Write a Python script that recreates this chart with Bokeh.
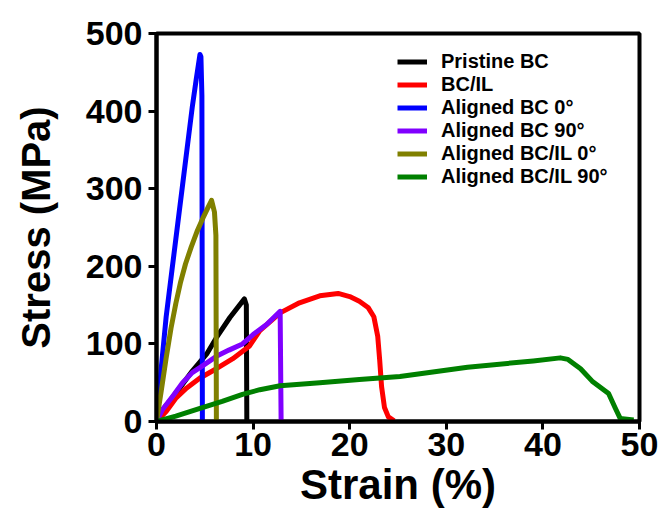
from bokeh.plotting import figure
from bokeh.models import Range1d, Legend, LegendItem
from bokeh.embed import file_html
from bokeh.resources import INLINE

# ---- data ----
pristine_strain = [0, 0.3, 1.35, 2.4, 3.7, 5.2, 6.2, 7.6, 9.1, 9.3, 9.35]
pristine_stress = [0, 10, 26, 43, 65, 87, 108, 134, 158, 150, 0]

bcil_strain = [0, 1.0, 2.0, 3.1, 4.5, 6.2, 7.9, 9.6, 10.7, 12.8, 14.8, 16.9, 18.8,
               20.0, 21.0, 21.9, 22.5, 22.9, 23.1, 23.3, 23.6, 24.0, 24.6]
bcil_stress = [0, 13, 30, 43, 56, 68, 81, 97, 117, 140, 153, 162, 165,
               161, 155, 147, 135, 110, 80, 45, 18, 6, 1]

abc0_strain = [0, 0.5, 1.0, 1.6, 2.2, 2.7, 3.2, 3.7, 4.1, 4.5, 4.6, 4.7, 4.75]
abc0_stress = [0, 70, 135, 195, 255, 305, 355, 405, 440, 473, 470, 420, 0]

abc90_strain = [0, 0.6, 1.7, 2.7, 3.7, 4.8, 6.2, 7.5, 8.9, 10.0, 11.4, 12.8, 12.9]
abc90_stress = [0, 15, 33, 50, 63, 72, 84, 92, 100, 112, 125, 142, 0]

abcil0_strain = [0, 0.5, 1.0, 1.5, 2.0, 2.5, 3.0, 3.6, 4.2, 4.8, 5.3, 5.7, 6.0, 6.15, 6.2]
abcil0_stress = [0, 40, 82, 120, 152, 180, 203, 225, 245, 262, 275, 285, 270, 240, 0]

abcil90_strain = [0, 2.0, 4.5, 6.8, 8.9, 10.7, 12.8, 16.9, 21.0, 25.2, 32.2, 39.0,
                  41.8, 42.6, 43.9, 45.1, 46.8, 47.5, 48.0, 49.4]
abcil90_stress = [0, 7, 17, 26, 35, 41, 46, 50, 54, 58, 70, 78,
                  82, 80, 68, 52, 36, 17, 4, 2]

labels = ["Pristine BC", "BC/IL", "Aligned BC 0°", "Aligned BC 90°",
          "Aligned BC/IL 0°", "Aligned BC/IL 90°"]
colors = ["#000000", "#ff0000", "#0000ff", "#8000ff", "#808000", "#008000"]
series = [(pristine_strain, pristine_stress), (bcil_strain, bcil_stress),
          (abc0_strain, abc0_stress), (abc90_strain, abc90_stress),
          (abcil0_strain, abcil0_stress), (abcil90_strain, abcil90_stress)]

x_ticks = [0, 10, 20, 30, 40, 50]
y_ticks = [0, 100, 200, 300, 400, 500]

FONT = "Liberation Sans"

p = figure(width=664, height=525, output_backend="svg", toolbar_location=None,
           x_range=Range1d(0, 50), y_range=Range1d(0, 500),
           min_border_left=156, min_border_right=25, min_border_top=33,
           min_border_bottom=104)
p.grid.visible = False
p.outline_line_color = "black"
p.outline_line_width = 4
p.background_fill_color = "white"
p.border_fill_color = "white"

items = []
for (xs, ys), c, lab in zip(series, colors, labels):
    r = p.line(xs, ys, line_color=c, line_width=5, line_join="round")
    items.append(LegendItem(label=lab, renderers=[r]))

for ax in (p.xaxis[0], p.yaxis[0]):
    ax.axis_line_width = 4
    ax.major_tick_line_width = 3
    ax.minor_tick_line_width = 3
    ax.major_tick_out = 8
    ax.major_tick_in = 0
    ax.minor_tick_out = 5
    ax.minor_tick_in = 0
    ax.major_label_text_font = FONT
    ax.major_label_text_font_style = "bold"
    ax.major_label_text_font_size = "34px"
    ax.major_label_text_color = "black"
    ax.axis_label_text_font = FONT
    ax.axis_label_text_font_style = "bold"
    ax.axis_label_text_color = "black"

p.xaxis.axis_label_text_font_size = "42px"
p.yaxis.axis_label_text_font_size = "40px"
p.xaxis.ticker = x_ticks
p.yaxis.ticker = y_ticks
p.xaxis[0].ticker.num_minor_ticks = 2
p.yaxis[0].ticker.num_minor_ticks = 2
p.xaxis.axis_label = "Strain (%)"
p.yaxis.axis_label = "Stress (MPa)"
p.xaxis.major_label_standoff = 3
p.yaxis.major_label_standoff = 6
p.xaxis.axis_label_standoff = 2
p.yaxis.axis_label_standoff = 25

legend = Legend(items=items, location=(241, 233), border_line_color=None,
                background_fill_alpha=0, padding=5, margin=0, spacing=0,
                label_text_font=FONT, label_text_font_style="bold",
                label_text_font_size="20px", label_text_color="black",
                label_height=23, glyph_height=23,
                glyph_width=30, label_standoff=14)
p.add_layout(legend, "center")

open("out.html", "w").write(file_html(p, INLINE))
